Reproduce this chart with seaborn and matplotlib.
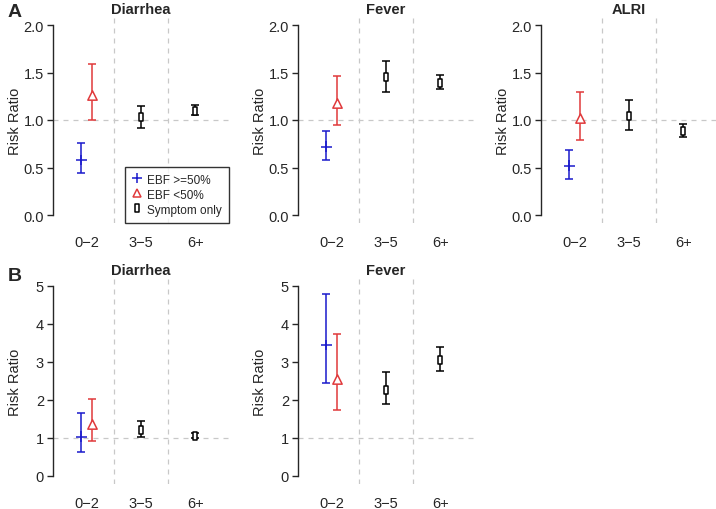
import numpy as np
import pandas as pd
import matplotlib.pyplot as plt
from matplotlib.path import Path
from matplotlib.lines import Line2D
import seaborn as sns

sns.set_style("ticks")
plt.rcParams['font.family'] = ['Liberation Sans', 'DejaVu Sans']
plt.rcParams['axes.unicode_minus'] = False

# data
ages = ["0−2", "3−5", "6+"]
point_group = ["EBF >=50%", "EBF <50%", "Symptom only", "Symptom only"]
point_age = ["0−2", "0−2", "3−5", "6+"]

# A: Diarrhea / Fever / ALRI (RR, lower, upper)
a_diarrhea_rr = [0.58, 1.26, 1.03, 1.10]
a_diarrhea_lo = [0.44, 1.00, 0.92, 1.05]
a_diarrhea_hi = [0.76, 1.59, 1.15, 1.16]

a_fever_rr = [0.72, 1.18, 1.45, 1.39]
a_fever_lo = [0.58, 0.95, 1.30, 1.33]
a_fever_hi = [0.88, 1.46, 1.62, 1.47]

a_alri_rr = [0.52, 1.02, 1.04, 0.88]
a_alri_lo = [0.38, 0.79, 0.89, 0.82]
a_alri_hi = [0.68, 1.30, 1.21, 0.96]

# B: Diarrhea / Fever
b_diarrhea_rr = [1.03, 1.37, 1.22, 1.06]
b_diarrhea_lo = [0.63, 0.92, 1.03, 1.00]
b_diarrhea_hi = [1.67, 2.03, 1.46, 1.12]

b_fever_rr = [3.45, 2.55, 2.26, 3.05]
b_fever_lo = [2.46, 1.74, 1.89, 2.77]
b_fever_hi = [4.80, 3.74, 2.74, 3.39]

panels = [
    ("A", "Diarrhea", a_diarrhea_rr, a_diarrhea_lo, a_diarrhea_hi),
    ("A", "Fever", a_fever_rr, a_fever_lo, a_fever_hi),
    ("A", "ALRI", a_alri_rr, a_alri_lo, a_alri_hi),
    ("B", "Diarrhea", b_diarrhea_rr, b_diarrhea_lo, b_diarrhea_hi),
    ("B", "Fever", b_fever_rr, b_fever_lo, b_fever_hi),
]

rows = []
for part, title, rr, lo, hi in panels:
    for g, a, r, l, h in zip(point_group, point_age, rr, lo, hi):
        rows.append(dict(part=part, panel=title, group=g, age=a, rr=r, lo=l, hi=h))
df = pd.DataFrame(rows)

# styling
colors = {"EBF >=50%": "#1a1acc", "EBF <50%": "#e0393b", "Symptom only": "black"}
offset = {"EBF >=50%": -0.1, "EBF <50%": 0.1, "Symptom only": 0.0}
rect = Path([(-0.28, -0.5), (0.28, -0.5), (0.28, 0.5), (-0.28, 0.5), (-0.28, -0.5)],
            [Path.MOVETO, Path.LINETO, Path.LINETO, Path.LINETO, Path.CLOSEPOLY])
markers = {"EBF >=50%": "+", "EBF <50%": "^", "Symptom only": rect}
msize = {"EBF >=50%": 60, "EBF <50%": 45, "Symptom only": 28}
mface = {"EBF >=50%": "none", "EBF <50%": "white", "Symptom only": "white"}
df["x"] = df["age"].map({a: i + 1 for i, a in enumerate(ages)}) + df["group"].map(offset)

W, H = 716, 510
fig = plt.figure(figsize=(W / 100, H / 100), dpi=100)
lefts = [53, 298, 541]
pw, ph = 176, 205.2
tops = {"A": 18.4, "B": 279.4}
ymax = {"A": 2.0, "B": 5.0}
yticks = {"A": [0.0, 0.5, 1.0, 1.5, 2.0], "B": [0, 1, 2, 3, 4, 5]}

col = {"A": 0, "B": 0}
axes = []
for part, title, *_ in panels:
    i = col[part]
    col[part] += 1
    ax = fig.add_axes([lefts[i] / W, 1 - (tops[part] + ph) / H, pw / W, ph / H])
    sub = df[(df.part == part) & (df.panel == title)]
    ym = ymax[part]
    ax.set_xlim(0.5 - 0.12, 3.5 + 0.12)
    ax.set_ylim(-0.04 * ym, ym * 1.04)

    # reference lines
    for xv in [1.5, 2.5]:
        ax.axvline(xv, color="#c8c8c8", lw=0.9, ls=(0, (4, 4)), zorder=0)
    ax.axhline(1, color="#c8c8c8", lw=0.9, ls=(0, (4, 4)), zorder=0)

    for g in colors:
        s = sub[sub.group == g]
        ax.errorbar(s["x"], s["rr"], yerr=[s["rr"] - s["lo"], s["hi"] - s["rr"]],
                    fmt="none", ecolor=colors[g], elinewidth=1.1, capsize=3,
                    capthick=1.1, zorder=2)
        sns.scatterplot(data=s, x="x", y="rr", marker=markers[g], s=msize[g],
                        color=colors[g], ax=ax, zorder=3, legend=False)
        pts = ax.collections[-1]
        pts.set_facecolor(mface[g])
        pts.set_edgecolor(colors[g])
        pts.set_linewidth(1.1)

    sns.despine(ax=ax, bottom=True)
    ax.spines["left"].set_bounds(0, ym)
    ax.spines["left"].set_linewidth(1.0)
    ax.set_yticks(yticks[part])
    if part == "A":
        ax.set_yticklabels([f"{v:.1f}" for v in yticks[part]])
    ax.set_xticks([1, 2, 3])
    ax.set_xticklabels(ages)
    ax.tick_params(axis="x", length=0, pad=9, labelsize=10.5)
    ax.tick_params(axis="y", length=4.5, width=1.0, labelsize=10.5, pad=2)
    ax.set_xlabel("")
    ax.set_ylabel("Risk Ratio", fontsize=10.5)
    ax.yaxis.set_label_coords(-31 / pw, 0.5)
    ax.set_title(title, fontsize=10.5, fontweight="bold", pad=3)
    axes.append(ax)

# legend in the first panel
handles = [Line2D([], [], ls="none", marker=markers[g], color=colors[g],
                  markerfacecolor="none", markersize={"EBF >=50%": 7, "EBF <50%": 6, "Symptom only": 5.5}[g],
                  markeredgewidth=1.1, label=g) for g in colors]
leg = axes[0].legend(handles=handles, loc="lower right", frameon=True, fontsize=8.5,
                     handlelength=0.8, handletextpad=0.5, borderpad=0.6,
                     labelspacing=0.25, borderaxespad=0, fancybox=False)
leg.get_frame().set_edgecolor("black")
leg.get_frame().set_linewidth(1.0)

fig.text(8 / W, 1 - 17 / H, "A", fontsize=14, fontweight="bold")
fig.text(8 / W, 1 - 281 / H, "B", fontsize=14, fontweight="bold")

fig.savefig("out.png", dpi=100)
